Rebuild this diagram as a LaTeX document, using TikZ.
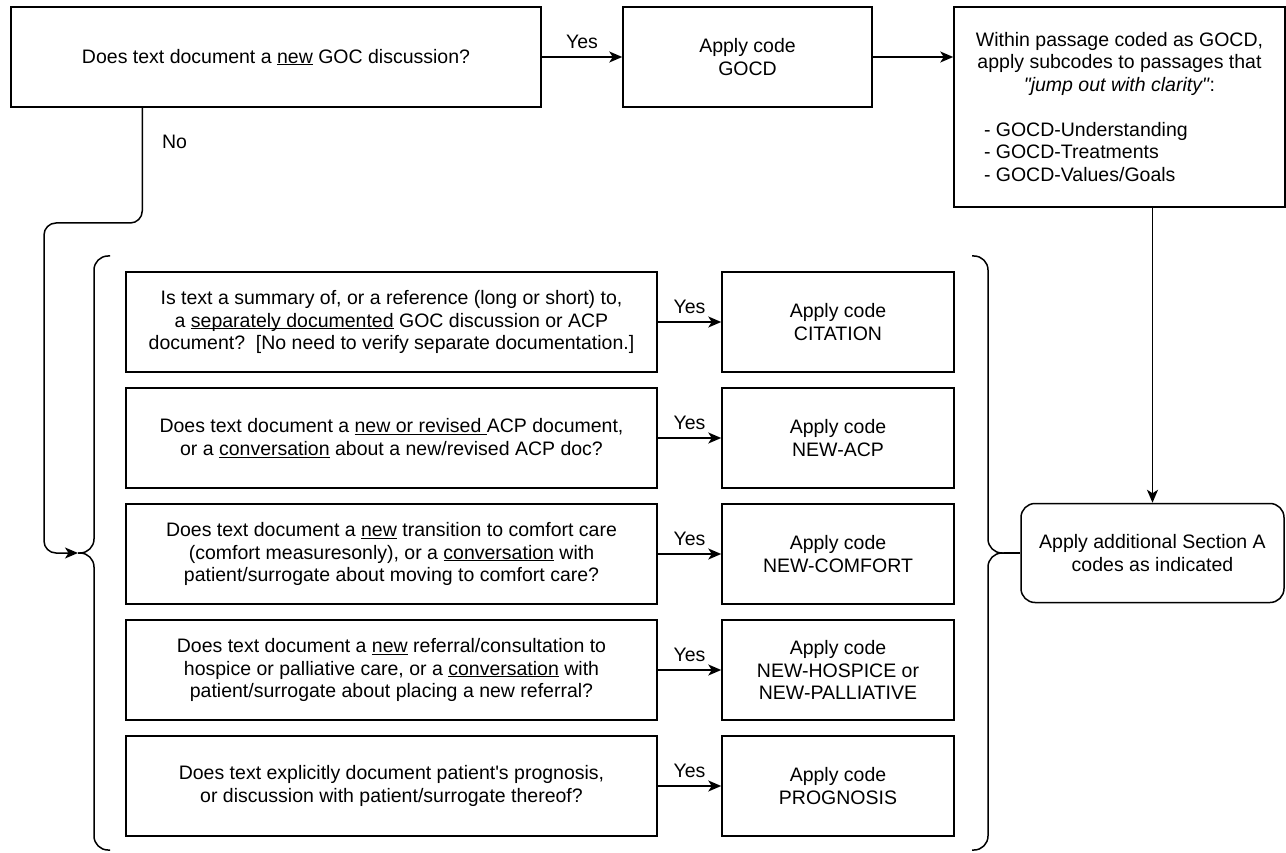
\documentclass[tikz,border=0pt]{standalone}
\usepackage{fontspec}
\setmainfont{Liberation Sans}
\usetikzlibrary{arrows.meta}
\newcommand{\undr}[1]{\underline{\smash{#1}}}

\begin{document}
\begin{tikzpicture}[x=1pt, y=-1pt, line width=1.5pt,
    font=\fontsize{19.5}{22.5}\selectfont,
    box/.style={draw, align=center, minimum height=100pt, inner sep=2pt},
    qbox/.style={box, minimum width=531pt},
    codebox/.style={box, minimum width=232pt},
    conn/.style={-{Stealth[length=13pt, width=11pt, inset=3.5pt]}},
    answer/.style={inner sep=1pt},
    bracket/.style={rounded corners=14pt}]
    \useasboundingbox (0,0) rectangle (1286,853);

    % First question and GOCD
    \node[box, minimum width=530pt] (q0) at (276,57) {Does text document a \undr{new} GOC discussion?};
    \node[box, minimum width=249pt] (gocd) at (747.5,57) {Apply code\\GOCD};
    \node[box, minimum width=331pt, minimum height=200pt] (sub) at (1119.5,107)
        {Within passage coded as GOCD,\\ apply subcodes to passages that\\
         \textit{\textquotedbl jump out with clarity\textquotedbl}:\\[22.5pt]
         \makebox[271pt][l]{- GOCD-Understanding}\\
         \makebox[271pt][l]{- GOCD-Treatments}\\
         \makebox[271pt][l]{- GOCD-Values/Goals}};

    % Questions inside the brackets
    \node[qbox] (q1) at (391.5,322) {Is text a summary of, or a reference (long or short) to,\\
        a \undr{separately documented} GOC discussion or ACP\\
        document?\ \ [No need to verify separate documentation.]};
    \node[qbox] (q2) at (391.5,438) {Does text document a \undr{new or revised }ACP document,\\
        or a \undr{conversation} about a new/revised ACP doc?};
    \node[qbox] (q3) at (391.5,554) {Does text document a \undr{new} transition to comfort care\\
        (comfort measuresonly), or a \undr{conversation} with\\
        patient/surrogate about moving to comfort care?};
    \node[qbox] (q4) at (391.5,670) {Does text document a \undr{new} referral/consultation to\\
        hospice or palliative care, or a \undr{conversation} with\\
        patient/surrogate about placing a new referral?};
    \node[qbox] (q5) at (391.5,786) {Does text explicitly document patient\textquotesingle s prognosis,\\
        or discussion with patient/surrogate thereof?};

    % Codes
    \node[codebox] (c1) at (838,322) {Apply code\\CITATION};
    \node[codebox] (c2) at (838,438) {Apply code\\NEW-ACP};
    \node[codebox] (c3) at (838,554) {Apply code\\NEW-COMFORT};
    \node[codebox] (c4) at (838,670) {Apply code\\NEW-HOSPICE or\\NEW-PALLIATIVE};
    \node[codebox] (c5) at (838,786) {Apply code\\PROGNOSIS};

    \node[box, rounded corners=14pt, minimum width=263pt, minimum height=99pt] (final) at (1152.5,553)
        {Apply additional Section A\\codes as indicated};

    % Brackets
    \coordinate (lbrace) at (78,553);
    \coordinate (rbrace) at (1004,553);
    \draw[bracket] (110,256) -- (94,256) -- (94,553) -- (lbrace);
    \draw[bracket] (lbrace) -- (94,553) -- (94,850) -- (110,850);
    \draw[bracket] (972,256) -- (988,256) -- (988,553) -- (rbrace);
    \draw[bracket] (rbrace) -- (988,553) -- (988,850) -- (972,850);

    % Connectors
    \draw[conn] (q0) -- node[answer, above=7pt] {Yes} (gocd);
    \draw[conn] (gocd) -- (gocd -| sub.west);
    \draw[conn] (final.north |- sub.south) -- (final.north);
    \draw[conn, rounded corners=12pt] ([xshift=132pt]q0.south west)
        |- node[answer, right=18pt, pos=0.15] {No} (44,223) -- (44,553) -- (lbrace);
    \draw[conn] (q1) -- node[answer, above=7pt] {Yes} (c1);
    \draw[conn] (q2) -- node[answer, above=7pt] {Yes} (c2);
    \draw[conn] (q3) -- node[answer, above=7pt] {Yes} (c3);
    \draw[conn] (q4) -- node[answer, above=7pt] {Yes} (c4);
    \draw[conn] (q5) -- node[answer, above=7pt] {Yes} (c5);
    \draw (rbrace) -- (final.west);
\end{tikzpicture}
\end{document}
